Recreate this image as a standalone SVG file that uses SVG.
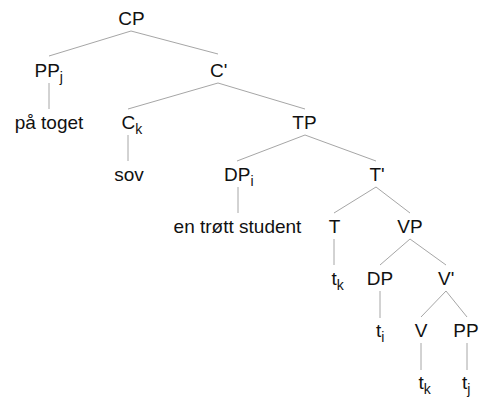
<svg xmlns="http://www.w3.org/2000/svg" width="480" height="399" viewBox="0 0 480 399">
<style>
text{font-family:"Liberation Sans",Arial,sans-serif;font-size:19px;fill:#111}
.m{text-anchor:middle}
.s{font-size:14px}
#edges line{stroke:#a6a6a6;stroke-width:1}
</style>
<rect width="480" height="399" fill="#fff"/>
<g id="edges">
<line x1="131" y1="31" x2="49" y2="56"/>
<line x1="131" y1="31" x2="218" y2="54"/>
<line x1="49" y1="83" x2="49" y2="109"/>
<line x1="218" y1="83" x2="128" y2="109"/>
<line x1="218" y1="83" x2="305" y2="109"/>
<line x1="128" y1="135" x2="128" y2="161"/>
<line x1="305" y1="135" x2="237" y2="161"/>
<line x1="305" y1="135" x2="376" y2="161"/>
<line x1="238" y1="187" x2="238" y2="213"/>
<line x1="376" y1="187" x2="334" y2="213"/>
<line x1="376" y1="187" x2="410" y2="213"/>
<line x1="334" y1="239" x2="334" y2="265"/>
<line x1="410" y1="239" x2="380" y2="265"/>
<line x1="410" y1="239" x2="446" y2="265"/>
<line x1="380" y1="291" x2="380" y2="318"/>
<line x1="446" y1="291" x2="421" y2="317"/>
<line x1="446" y1="291" x2="467" y2="317"/>
<line x1="421" y1="343" x2="421" y2="370"/>
<line x1="467" y1="343" x2="467" y2="370"/>
</g>
<g id="n-CP"><text class="m" x="131.5" y="25">CP</text></g>
<g id="n-PPj"><text x="34.5" y="77">PP<tspan class="s" dy="5">j</tspan></text></g>
<g id="n-Cbar"><text x="210" y="77">C'</text></g>
<g id="n-paatoget"><text class="m" x="49" y="129">på toget</text></g>
<g id="n-Ck"><text x="121.5" y="129">C<tspan class="s" dy="5">k</tspan></text></g>
<g id="n-TP"><text class="m" x="304.5" y="129">TP</text></g>
<g id="n-sov"><text class="m" x="129" y="181">sov</text></g>
<g id="n-DPi"><text x="224" y="181">DP<tspan class="s" dy="5">i</tspan></text></g>
<g id="n-Tbar"><text x="369.5" y="181">T'</text></g>
<g id="n-student"><text class="m" x="237.5" y="233">en trøtt student</text></g>
<g id="n-T"><text class="m" x="334.5" y="233">T</text></g>
<g id="n-VP"><text class="m" x="410" y="233">VP</text></g>
<g id="n-tk1"><text x="331.5" y="285">t<tspan class="s" dy="5">k</tspan></text></g>
<g id="n-DP"><text class="m" x="380" y="285">DP</text></g>
<g id="n-Vbar"><text x="438" y="285">V'</text></g>
<g id="n-ti"><text x="376" y="337">t<tspan class="s" dy="5">i</tspan></text></g>
<g id="n-V"><text class="m" x="421" y="337">V</text></g>
<g id="n-PP"><text class="m" x="466" y="337">PP</text></g>
<g id="n-tk2"><text x="418.5" y="389">t<tspan class="s" dy="5">k</tspan></text></g>
<g id="n-tj"><text x="462" y="389">t<tspan class="s" dy="5">j</tspan></text></g>
</svg>
